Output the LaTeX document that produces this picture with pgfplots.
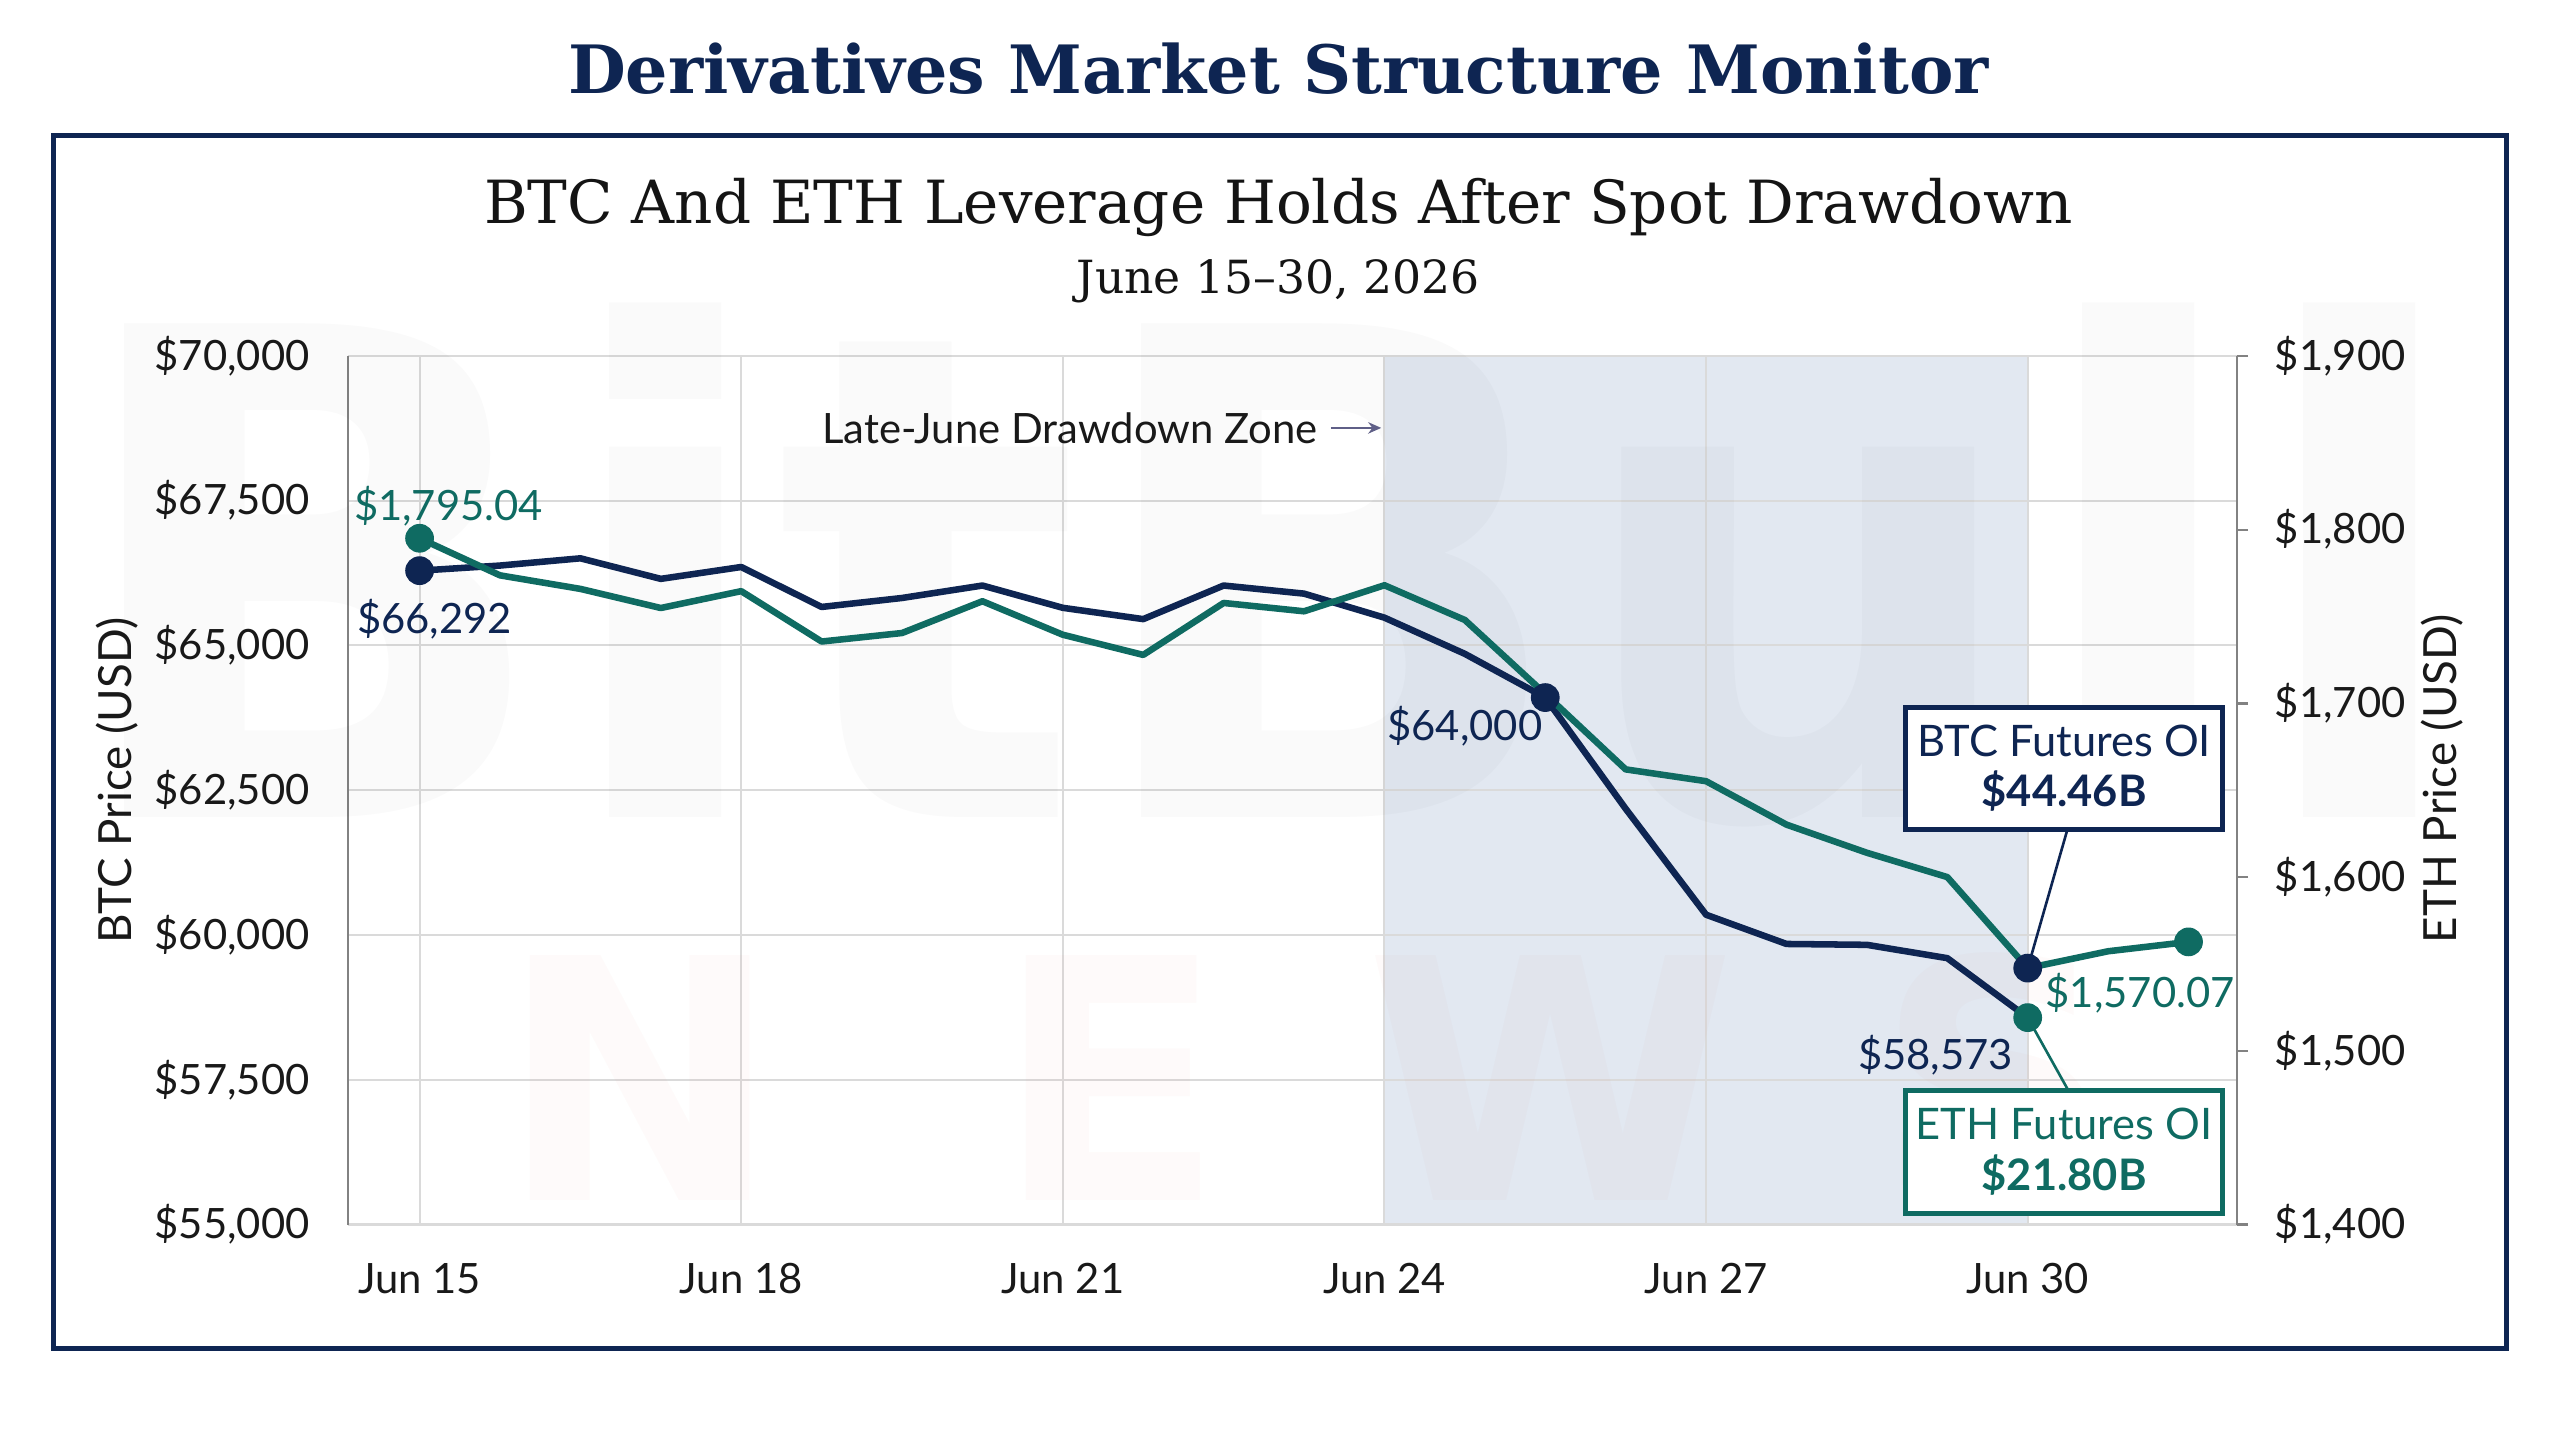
\documentclass[border=0pt]{standalone}
\usepackage{graphicx}
\usepackage{pgfplots}
\pgfplotsset{compat=1.18}
\usepackage{fontspec}
\setmainfont{Lato}
\newfontfamily\serifT{DejaVu Serif}
\newfontfamily\wmfont{DejaVu Sans}
\usetikzlibrary{arrows.meta}
\definecolor{navy}{RGB}{14,37,82}
\definecolor{tealc}{RGB}{15,107,98}
\definecolor{shade}{RGB}{226,232,241}
\definecolor{gridc}{RGB}{218,218,218}
\definecolor{axisc}{RGB}{130,130,130}
\definecolor{tickc}{RGB}{25,25,25}
\definecolor{arrowc}{RGB}{95,95,135}

\pgfplotstableread{
x btc
15.00 66292
15.75 66380
16.50 66505
17.25 66150
18.00 66355
18.75 65665
19.50 65820
20.25 66035
21.00 65650
21.75 65455
22.50 66035
23.25 65895
24.00 65480
24.75 64855
25.50 64100
26.25 62180
27.00 60350
27.75 59845
28.50 59830
29.25 59600
30.00 58573
}\btcdata

\pgfplotstableread{
x eth
15.00 1795.04
15.75 1773.7
16.50 1765.9
17.25 1754.9
18.00 1764.6
18.75 1735.6
19.50 1740.5
20.25 1758.8
21.00 1739.5
21.75 1727.9
22.50 1757.8
23.25 1753.0
24.00 1768.0
24.75 1748.0
25.50 1705.4
26.25 1662.0
27.00 1655.2
27.75 1630.2
28.50 1614.0
29.25 1600.0
30.00 1547.6
30.75 1557.3
31.50 1562.7
}\ethdata

\pgfplotsset{
  geom/.style={at={(106.5pt,-375pt)}, anchor=south west, scale only axis,
    width=578.5pt, height=266pt, xmin=14.33, xmax=31.95, scaled y ticks=false},
}
\tikzset{lbl/.style={font=\fontsize{12.8}{14}\selectfont, inner sep=0pt}}

\begin{document}
\begin{tikzpicture}
\path[use as bounding box, fill=white] (0,0) rectangle (784pt,-437.5pt);

% grid, shade, left axis
\begin{axis}[geom, ymin=55000, ymax=70000,
  xtick={15,18,21,24,27,30},
  xticklabels={Jun 15,Jun 18,Jun 21,Jun 24,Jun 27,Jun 30},
  ytick={55000,57500,60000,62500,65000,67500,70000},
  yticklabels={{\$55,000},{\$57,500},{\$60,000},{\$62,500},{\$65,000},{\$67,500},{\$70,000}},
  grid=major, major grid style={gridc, line width=0.6pt},
  axis x line*=bottom, axis y line*=left,
  x axis line style={gridc, line width=0.8pt, -},
  y axis line style={axisc, line width=0.7pt, -},
  major tick length=0pt,
  tick label style={font=\fontsize{12.8}{14}\selectfont, text=tickc},
  yticklabel style={anchor=east, inner sep=0pt, xshift=-11.5pt},
  xticklabel style={anchor=center, inner sep=0pt, yshift=-16.5pt},
  axis on top]
\addplot[draw=none, fill=shade] coordinates {(24,55000) (30,55000) (30,70000) (24,70000)} -- cycle;
\end{axis}

% watermark
\begin{scope}[x=0.5pt, y=-0.5pt]
\node[anchor=north west, inner sep=0pt, text=black, opacity=0.018] at (40,185)
  {\resizebox{735pt}{157.5pt}{\wmfont\bfseries BitBull}};
\foreach \lx/\lt in {392/N, 680/E, 950/W, 1222/S}
  \node[inner sep=0pt, text={rgb,255:red,220;green,70;blue,50}, opacity=0.025] at (\lx,660)
   {\resizebox{!}{75pt}{\wmfont\bfseries \lt}};
\end{scope}

% BTC line
\begin{axis}[geom, ymin=55000, ymax=70000, hide axis]
\addplot[navy, line width=2pt, line join=round, mark=none] table[x=x, y=btc] {\btcdata};
\end{axis}

% ETH axis and line
\begin{axis}[geom, ymin=1400, ymax=1900,
  axis y line*=right, axis x line=none,
  xtick=\empty,
  ytick={1400,1500,1600,1700,1800,1900},
  yticklabels={{\$1,400},{\$1,500},{\$1,600},{\$1,700},{\$1,800},{\$1,900}},
  y axis line style={axisc, line width=0.7pt, -},
  ytick style={axisc, line width=0.7pt},
  tick align=outside, major tick length=3.5pt,
  tick label style={font=\fontsize{12.8}{14}\selectfont, text=tickc},
  yticklabel style={anchor=west, inner sep=0pt, xshift=8pt}]
\addplot[tealc, line width=2pt, line join=round, mark=none] table[x=x, y=eth] {\ethdata};
\addplot[only marks, mark=*, mark size=4.2pt, tealc] coordinates {(15,1795.04) (31.5,1562.7)};
\addplot[only marks, mark=*, mark size=4.2pt, navy] coordinates {(30,1547.6)};
\end{axis}

% BTC markers and annotations
\begin{axis}[geom, ymin=55000, ymax=70000, hide axis, clip=false]
\draw[navy, line width=0.8pt] (axis cs:30.37,61820) -- (axis cs:30,59428);
\draw[tealc, line width=0.8pt] (axis cs:30,58573) -- (axis cs:30.38,57312);
\addplot[only marks, mark=*, mark size=4.2pt, navy] coordinates {(15,66292) (25.5,64100)};
\addplot[only marks, mark=*, mark size=4.2pt, tealc] coordinates {(30,58573)};

\node[lbl, text=tealc] at (axis cs:15.27,67405) {\$1,795.04};
\node[lbl, text=navy] at (axis cs:15.14,65459) {\$66,292};
\node[lbl, text=navy] at (axis cs:24.75,63598) {\$64,000};
\node[lbl, text=navy] at (axis cs:29.14,57932) {\$58,573};
\node[lbl, text=tealc] at (axis cs:31.05,59003) {\$1,570.07};

\node[lbl, text=tickc, anchor=east] at (axis cs:23.38,68757) {Late-June Drawdown Zone};
\draw[arrowc, line width=0.8pt, -{Stealth[length=4pt, width=3.5pt]}] (axis cs:23.5,68757) -- (axis cs:23.97,68757);

\node[draw=navy, line width=1.5pt, fill=white, minimum width=97pt, minimum height=37.5pt,
  align=center, text=navy, inner sep=0pt, font=\fontsize{13.3}{15.5}\selectfont]
  at (axis cs:30.34,62879) {BTC Futures OI\\\textbf{\$44.46B}};
\node[draw=tealc, line width=1.5pt, fill=white, minimum width=97pt, minimum height=37.5pt,
  align=center, text=tealc, inner sep=0pt, font=\fontsize{13.3}{15.5}\selectfont]
  at (axis cs:30.34,56254) {ETH Futures OI\\\textbf{\$21.80B}};
\end{axis}

% titles, frame, axis titles
\begin{scope}[x=0.5pt, y=-0.5pt]
\draw[navy, line width=1.5pt] (33,83) rectangle (1535,826);
\node[text=navy, inner sep=0pt] at (783,42)
  {\resizebox{435pt}{!}{\serifT\bfseries Derivatives Market Structure Monitor}};
\node[text=black!92, inner sep=0pt] at (783,127)
  {\resizebox{486.5pt}{!}{\serifT BTC And ETH Leverage Holds After Spot Drawdown}};
\node[text=black!92, inner sep=0pt] at (783,172)
  {\resizebox{123.5pt}{!}{\serifT June 15–30, 2026}};
\node[rotate=90, text=tickc, inner sep=0pt, font=\fontsize{14}{16}\selectfont] at (72,478) {BTC Price (USD)};
\node[rotate=90, text=tickc, inner sep=0pt, font=\fontsize{14}{16}\selectfont] at (1496,477) {ETH Price (USD)};
\end{scope}
\end{tikzpicture}
\end{document}
